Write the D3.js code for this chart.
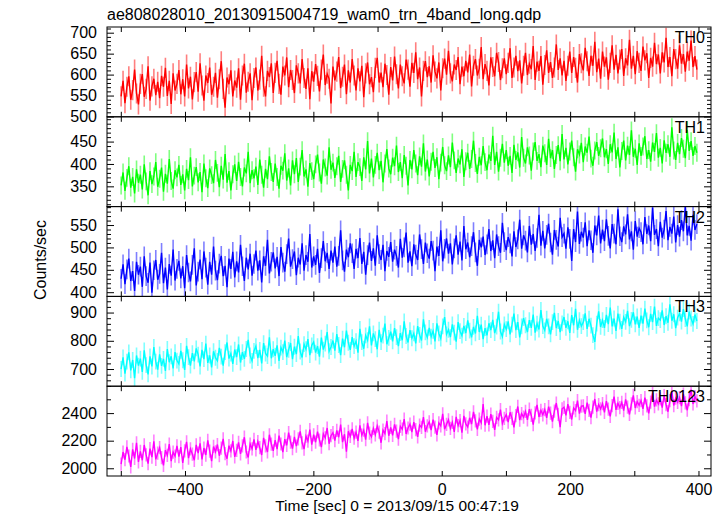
<!DOCTYPE html>
<html>
<head>
<meta charset="utf-8">
<script src="https://cdn.jsdelivr.net/npm/d3@7"></script>
<style>
  html, body { margin: 0; padding: 0; background: #fff; }
  svg { display: block; }
  text { font-family: "Liberation Sans", Arial, Helvetica, sans-serif; fill: #000; }
</style>
</head>
<body>
<svg id="chart" width="724" height="516"></svg>
<script>
// ---------------- data ----------------
const titleText = "ae808028010_20130915004719_wam0_trn_4band_long.qdp";
const xLabelText = "Time [sec] 0 = 2013/09/15 00:47:19";
const yLabelText = "Counts/sec";

const timeStart = -501;   // start of first bin (s)
const binWidth = 3;       // bin width (s)

const seriesNames = ["TH0", "TH1", "TH2", "TH3", "TH0123"];
const seriesColors = ["#ff0000", "#00ff00", "#0000ff", "#00ffff", "#ff00ff"];
const seriesErrors = [24, 20, 22, 28, 48];

const th0 = [
548,585,532,571,596,540,563,612,555,529, 578,601,547,566,620,538,572,590,551,583,
544,597,571,616,549,585,530,603,562,578, 611,553,589,548,624,567,595,541,582,606,
559,627,574,538,598,580,617,552,571,604, 545,589,632,566,521,593,577,610,548,586,
569,615,540,598,626,557,583,603,539,592, 617,562,588,645,571,548,609,594,627,556,
604,633,578,552,619,598,641,570,611,587, 556,622,603,579,637,592,566,615,541,608,
583,625,597,560,612,648,575,602,590,531, 619,586,607,642,568,595,624,553,610,581,
637,598,562,615,584,621,546,603,629,577, 594,558,616,640,581,605,570,626,599,552,
618,586,643,601,567,624,596,579,636,612, 571,628,604,653,589,617,548,609,632,594,
620,581,646,607,591,629,562,615,638,600, 657,603,584,624,611,642,577,619,596,633,
605,648,572,621,637,598,614,666,589,625, 609,574,641,618,596,652,630,587,615,639,
601,628,663,592,617,645,608,634,579,621, 652,599,626,613,668,587,631,609,644,576,
623,658,604,630,592,617,672,611,639,598, 633,585,621,655,604,642,616,581,649,627,
610,664,632,597,645,621,678,606,638,590, 655,619,641,588,628,670,612,647,603,636,
661,597,639,622,683,614,645,601,656,628, 609,667,634,651,592,640,619,676,625,648,
603,653,629,688,618,642,596,661,637,614, 670,626,649,607,655,633,681,618,644,612
];
const th1 = [
352,381,340,369,395,347,371,334,388,358, 376,343,399,361,330,384,355,372,404,349,
367,392,338,378,356,411,362,345,386,370, 398,353,377,341,389,364,415,350,374,393,
359,382,337,401,368,346,390,375,357,409, 380,348,396,365,422,358,384,341,377,399,
362,405,371,350,392,379,427,357,386,368, 394,353,410,376,347,389,366,417,382,360,
401,371,345,396,385,424,363,390,352,408, 377,413,360,394,431,372,388,349,402,384,
366,399,421,381,356,410,392,374,437,387, 403,369,395,418,360,389,408,376,341,398,
384,427,371,404,393,362,415,388,451,379, 412,370,398,425,386,407,359,401,433,390,
377,414,395,441,382,404,368,420,396,352, 409,388,431,401,375,417,394,446,383,410,
372,405,427,391,415,366,403,438,397,384, 419,393,448,408,380,412,399,433,371,406,
425,389,411,452,402,378,416,397,440,404, 386,421,407,463,398,427,383,414,445,403,
431,396,418,380,443,409,426,392,460,414, 401,437,419,385,428,449,407,422,393,441,
424,398,456,413,431,389,420,442,406,467, 410,436,399,428,452,415,383,433,421,447,
404,439,425,461,412,396,430,449,418,435, 457,415,433,400,444,426,470,411,437,392,
429,452,408,441,420,475,416,434,398,446, 418,439,462,411,431,405,448,427,469,414,
436,401,453,425,444,416,482,430,409,447, 422,458,434,413,476,429,451,418,440,425
];
const th2 = [
430,462,418,451,475,425,447,403,468,439, 457,412,480,436,421,466,399,449,472,428,
441,488,420,455,406,463,437,495,426,452, 470,431,458,409,483,444,424,461,498,415,
446,473,429,491,455,417,468,439,502,448, 427,464,481,436,459,411,475,452,490,433,
469,444,506,458,425,477,451,486,437,463, 493,448,471,422,480,459,517,442,468,489,
453,479,436,501,466,446,485,520,457,474, 491,438,477,462,509,448,483,468,530,455,
480,461,497,443,476,514,469,488,452,493, 466,502,457,481,538,471,446,495,478,509,
487,452,497,476,521,463,490,439,483,511, 470,498,459,527,485,472,506,447,492,479,
512,468,495,481,455,519,477,500,533,466, 491,458,507,484,472,529,496,463,511,487,
475,514,493,447,502,481,538,469,497,520, 486,509,462,498,527,484,513,471,548,496,
511,478,503,534,489,459,517,500,524,483, 507,541,492,516,476,529,503,488,555,512,
494,523,509,480,536,501,518,562,497,527, 515,489,548,506,530,492,521,573,504,537,
498,528,553,511,484,539,517,502,566,523, 531,497,545,519,470,541,512,580,508,535,
522,556,503,538,516,488,549,527,571,509, 540,514,563,526,498,552,531,507,585,525,
512,547,529,574,518,536,495,559,524,543, 534,507,568,530,549,514,589,528,541,503,
557,522,540,581,516,546,531,569,511,550, 524,561,536,592,527,548,515,573,539,552
];
const th3 = [
700,741,684,726,759,695,732,668,748,712, 737,690,766,714,681,745,709,778,726,698,
752,711,736,693,771,724,745,702,760,730, 718,764,731,697,782,742,712,756,727,773,
751,709,768,735,790,722,748,706,763,740, 729,775,744,712,760,794,737,755,718,769,
742,787,723,760,736,771,803,748,729,764, 781,739,768,720,792,755,746,812,738,770,
747,784,729,776,760,801,742,768,792,735, 779,753,817,762,741,788,770,806,749,784,
796,758,781,744,811,769,790,831,763,778, 801,765,824,785,749,808,777,836,793,768,
813,781,799,758,842,795,772,819,802,851, 784,826,806,770,839,795,818,861,788,810,
832,798,845,813,781,827,802,869,817,794, 838,809,826,791,852,821,801,876,830,812,
846,815,835,798,862,826,808,851,884,823, 839,813,858,829,797,866,834,818,853,827,
872,836,812,849,826,888,831,857,806,845, 819,862,838,874,827,850,903,833,815,858,
841,869,823,857,896,838,866,812,851,880, 855,831,873,846,893,829,861,840,909,852,
837,878,851,823,866,899,845,870,831,862, 884,846,869,828,891,855,913,839,873,852,
866,897,842,878,854,820,796,861,904,849, 873,846,892,859,918,851,879,835,896,868,
842,883,867,906,852,874,901,858,886,846, 889,861,914,872,848,895,866,921,853,880,
873,908,856,887,864,929,871,894,845,882, 897,868,912,877,851,903,879,860,893,870
];
const th0123 = [
2030,2118,2062,2155,2089,2010,2137,2071,2184,2046, 2123,2058,2169,2097,2034,2142,2081,2196,2065,2110,
2149,2077,2021,2131,2094,2176,2052,2117,2088,2163, 2085,2154,2039,2126,2192,2073,2141,2102,2058,2170,
2110,2181,2064,2147,2096,2203,2125,2052,2158,2119, 2172,2091,2146,2213,2107,2069,2164,2126,2198,2083,
2129,2187,2104,2163,2225,2118,2078,2176,2141,2209, 2133,2194,2150,2096,2221,2162,2118,2243,2175,2127,
2204,2139,2236,2176,2117,2211,2166,2258,2190,2143, 2227,2161,2214,2268,2185,2139,2233,2197,2281,2172,
2243,2189,2266,2205,2154,2249,2221,2292,2178,2236, 2258,2201,2274,2225,2317,2190,2247,2121,2268,2231,
2285,2218,2262,2199,2311,2240,2276,2207,2329,2254, 2228,2289,2243,2306,2262,2185,2277,2251,2342,2236,
2297,2238,2318,2269,2211,2304,2283,2356,2249,2292, 2320,2262,2335,2281,2228,2313,2296,2371,2265,2308,
2337,2276,2352,2298,2242,2329,2307,2395,2283,2319, 2351,2289,2333,2264,2372,2309,2346,2258,2380,2321,
2299,2366,2320,2409,2343,2282,2357,2330,2465,2312, 2378,2314,2392,2340,2279,2369,2351,2426,2325,2361,
2389,2335,2406,2362,2297,2381,2448,2349,2396,2370, 2412,2351,2429,2383,2317,2401,2459,2372,2420,2387,
2426,2366,2447,2399,2338,2414,2473,2391,2298,2431, 2442,2383,2465,2405,2354,2437,2418,2491,2396,2451,
2453,2394,2476,2419,2367,2444,2502,2411,2462,2430, 2469,2405,2487,2428,2376,2455,2519,2423,2471,2440,
2478,2418,2499,2443,2390,2466,2528,2437,2483,2456, 2491,2430,2512,2452,2398,2479,2545,2447,2495,2466,
2503,2439,2526,2461,2410,2490,2557,2455,2508,2478, 2512,2450,2538,2474,2421,2497,2571,2466,2520,2489
];
const seriesValues = [th0, th1, th2, th3, th0123];

// axis settings
const xDomain = [-521.5, 419.5];
const xTickValues = [-400, -200, 0, 200, 400];
const xAllTicks = [-500, -400, -300, -200, -100, 0, 100, 200, 300, 400];
const yDomains = [[499.3, 713.6], [304.7, 505.4], [390.6, 591.2], [639.2, 957.2], [1944, 2595]];
const yMajorTicks = [[500, 550, 600, 650, 700], [350, 400, 450], [400, 450, 500, 550], [700, 800, 900], [2000, 2200, 2400]];
const yMinorStep = [10, 10, 10, 20, 100];

// ---------------- layout ----------------
const W = 724, H = 516;
const plotLeft = 107, plotRight = 711, plotTop = 27, plotBottom = 476;
const nP = seriesValues.length;
const ph = (plotBottom - plotTop) / nP;
const fontSize = 16;

const svg = d3.select("#chart");
svg.append("rect").attr("width", W).attr("height", H).attr("fill", "#fff");

const x = d3.scaleLinear().domain(xDomain).range([plotLeft, plotRight]);
const defs = svg.append("defs");

seriesValues.forEach((vals, i) => {
  const pTop = plotTop + i * ph, pBot = pTop + ph;
  const y = d3.scaleLinear().domain(yDomains[i]).range([pBot, pTop]);
  const pts = vals.map((v, k) => ({ t: timeStart + binWidth * (k + 0.5), v }));
  const err = seriesErrors[i];
  const color = seriesColors[i];

  defs.append("clipPath").attr("id", "clip" + i)
    .append("rect").attr("x", plotLeft).attr("y", pTop).attr("width", plotRight - plotLeft).attr("height", ph);

  const g = svg.append("g").attr("clip-path", `url(#clip${i})`);
  // error bars
  g.append("g").selectAll("line").data(pts).join("line")
    .attr("x1", d => x(d.t)).attr("x2", d => x(d.t))
    .attr("y1", d => y(d.v - err)).attr("y2", d => y(d.v + err))
    .attr("stroke", color).attr("stroke-opacity", 0.5).attr("stroke-width", 1.6);
  // data line
  g.append("path").datum(pts)
    .attr("d", d3.line().x(d => x(d.t)).y(d => y(d.v)))
    .attr("fill", "none").attr("stroke", color).attr("stroke-width", 1.4);

  // y ticks
  const [y0, y1] = yDomains[i];
  const minor = d3.range(Math.ceil(y0 / yMinorStep[i]) * yMinorStep[i], y1, yMinorStep[i])
    .filter(v => !yMajorTicks[i].includes(v));
  const axL = svg.append("g").attr("transform", `translate(${plotLeft},0)`)
    .call(d3.axisLeft(y).tickValues(yMajorTicks[i]).tickSizeInner(-7).tickSizeOuter(0).tickPadding(10).tickFormat(d3.format("d")));
  axL.select(".domain").remove();
  axL.selectAll("text").attr("font-size", fontSize).attr("font-family", null);
  const axLm = svg.append("g").attr("transform", `translate(${plotLeft},0)`)
    .call(d3.axisLeft(y).tickValues(minor).tickSizeInner(-4).tickSizeOuter(0).tickFormat(""));
  axLm.select(".domain").remove();
  const axR = svg.append("g").attr("transform", `translate(${plotRight},0)`)
    .call(d3.axisRight(y).tickValues(yMajorTicks[i]).tickSizeInner(-7).tickSizeOuter(0).tickFormat(""));
  axR.select(".domain").remove();
  const axRm = svg.append("g").attr("transform", `translate(${plotRight},0)`)
    .call(d3.axisRight(y).tickValues(minor).tickSizeInner(-4).tickSizeOuter(0).tickFormat(""));
  axRm.select(".domain").remove();

  // x ticks top and bottom
  const axT = svg.append("g").attr("transform", `translate(0,${pTop})`)
    .call(d3.axisTop(x).tickValues(xAllTicks).tickSizeInner(-5).tickSizeOuter(0).tickFormat(""));
  axT.select(".domain").remove();
  const axB = svg.append("g").attr("transform", `translate(0,${pBot})`)
    .call(d3.axisBottom(x).tickValues(i === nP - 1 ? xTickValues : xAllTicks)
      .tickSizeInner(-5).tickSizeOuter(0).tickPadding(8)
      .tickFormat(i === nP - 1 ? d3.format("d") : ""));
  axB.select(".domain").remove();
  axB.selectAll("text").attr("font-size", fontSize).attr("font-family", null);
  if (i === nP - 1) {
    const axBm = svg.append("g").attr("transform", `translate(0,${pBot})`)
      .call(d3.axisBottom(x).tickValues(xAllTicks.filter(v => !xTickValues.includes(v)))
        .tickSizeInner(-5).tickSizeOuter(0).tickFormat(""));
    axBm.select(".domain").remove();
  }

  // frame
  svg.append("rect").attr("x", plotLeft).attr("y", pTop).attr("width", plotRight - plotLeft).attr("height", ph)
    .attr("fill", "none").attr("stroke", "#000").attr("stroke-width", 1);

  // panel label
  svg.append("text").attr("x", 705).attr("y", pTop + 16).attr("text-anchor", "end")
    .attr("font-size", fontSize).text(seriesNames[i]);
});

svg.selectAll(".tick line").attr("stroke", "#000");

// titles
svg.append("text").attr("x", 107).attr("y", 20).attr("font-size", fontSize).text(titleText);
svg.append("text").attr("x", 397).attr("y", 511).attr("text-anchor", "middle").attr("font-size", 15.5).text(xLabelText);
svg.append("text").attr("transform", "translate(46,260) rotate(-90)").attr("text-anchor", "middle")
  .attr("font-size", fontSize).text(yLabelText);
</script>
</body>
</html>
